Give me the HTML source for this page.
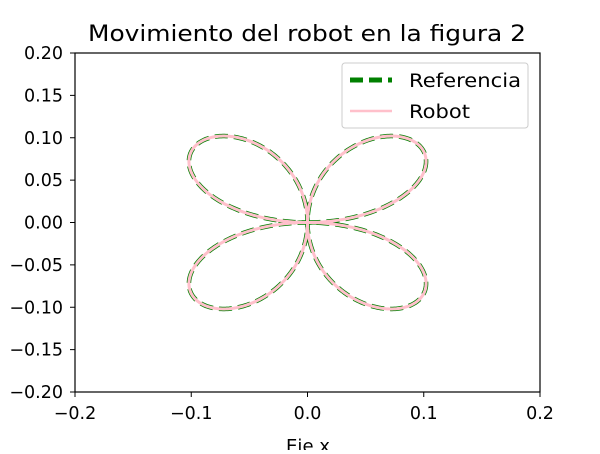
<!DOCTYPE html>
<html><head><meta charset="utf-8"><style>
body{margin:0;background:#fff;width:600px;height:450px;overflow:hidden;font-family:"DejaVu Sans","Liberation Sans",sans-serif}
</style></head><body>
<svg width="600" height="450" xmlns="http://www.w3.org/2000/svg" font-family="DejaVu Sans, sans-serif">
<text x="88" y="41" font-size="22" textLength="438" lengthAdjust="spacingAndGlyphs">Movimiento del robot en la figura 2</text>
<g id="curves"></g>
<rect x="75" y="53" width="465" height="339" fill="none" stroke="#000" stroke-width="1.2"/>
<g id="ticks" font-size="17.5"></g>
<text x="286" y="452" font-size="18" textLength="44" lengthAdjust="spacingAndGlyphs">Eje x</text>
<g>
<rect x="342" y="63" width="186" height="65" rx="3" fill="#fff" stroke="#ccc" stroke-width="1"/>
<line x1="350" y1="80" x2="392" y2="80" stroke="#008000" stroke-width="5" stroke-dasharray="13,6"/>
<text x="409" y="87" font-size="18.5" textLength="112" lengthAdjust="spacingAndGlyphs">Referencia</text>
<line x1="350" y1="111" x2="392" y2="111" stroke="#ffc0cb" stroke-width="2.5"/>
<text x="409" y="118" font-size="18.5" textLength="61" lengthAdjust="spacingAndGlyphs">Robot</text>
</g>
</svg>
<script>
const xTicks=[-0.2,-0.1,0.0,0.1,0.2];
const xTickLabels=["\u22120.2","\u22120.1","0.0","0.1","0.2"];
const yTicks=[-0.2,-0.15,-0.1,-0.05,0,0.05,0.1,0.15,0.2];
const yTickLabels=["\u22120.20","\u22120.15","\u22120.10","\u22120.05","0.00","0.05","0.10","0.15","0.20"];
const roseAmplitude=[0.1325];
const petalCount=[2];
const NS="http://www.w3.org/2000/svg";
const X=v=>75+(v+0.2)/0.4*465;
const Y=v=>392-(v+0.2)/0.4*339;
const tg=document.getElementById('ticks');
function mk(t,a,p){const e=document.createElementNS(NS,t);for(const k in a)e.setAttribute(k,a[k]);p.appendChild(e);return e;}
xTicks.forEach((v,i)=>{
 const l=mk('line',{x1:X(v),x2:X(v),y1:392,y2:397,stroke:'#000'},tg);
 
 
 const t=mk('text',{x:X(v),y:419,'text-anchor':'middle'},tg);t.textContent=xTickLabels[i];
 
 
});
yTicks.forEach((v,i)=>{
 const l=mk('line',{x1:70,x2:75,y1:Y(v),y2:Y(v),stroke:'#000'},tg);
 
 
 const t=mk('text',{x:63,y:Y(v)+6,'text-anchor':'end'},tg);t.textContent=yTickLabels[i];
 
 
});
let d='';
const a=roseAmplitude[0],k=petalCount[0];
for(let i=0;i<=720;i++){const th=i/720*2*Math.PI;const r=a*Math.sin(k*th);
 d+=(i?'L':'M')+X(r*Math.cos(th)).toFixed(2)+','+Y(r*Math.sin(th)).toFixed(2);}
const cg=document.getElementById('curves');
const ref=mk('path',{d:d,fill:'none',stroke:'#008000','stroke-width':4.5,'stroke-dasharray':'13,6'},cg);


const rob=mk('path',{d:d,fill:'none',stroke:'#ffc0cb','stroke-width':3},cg);


</script>
</body></html>
